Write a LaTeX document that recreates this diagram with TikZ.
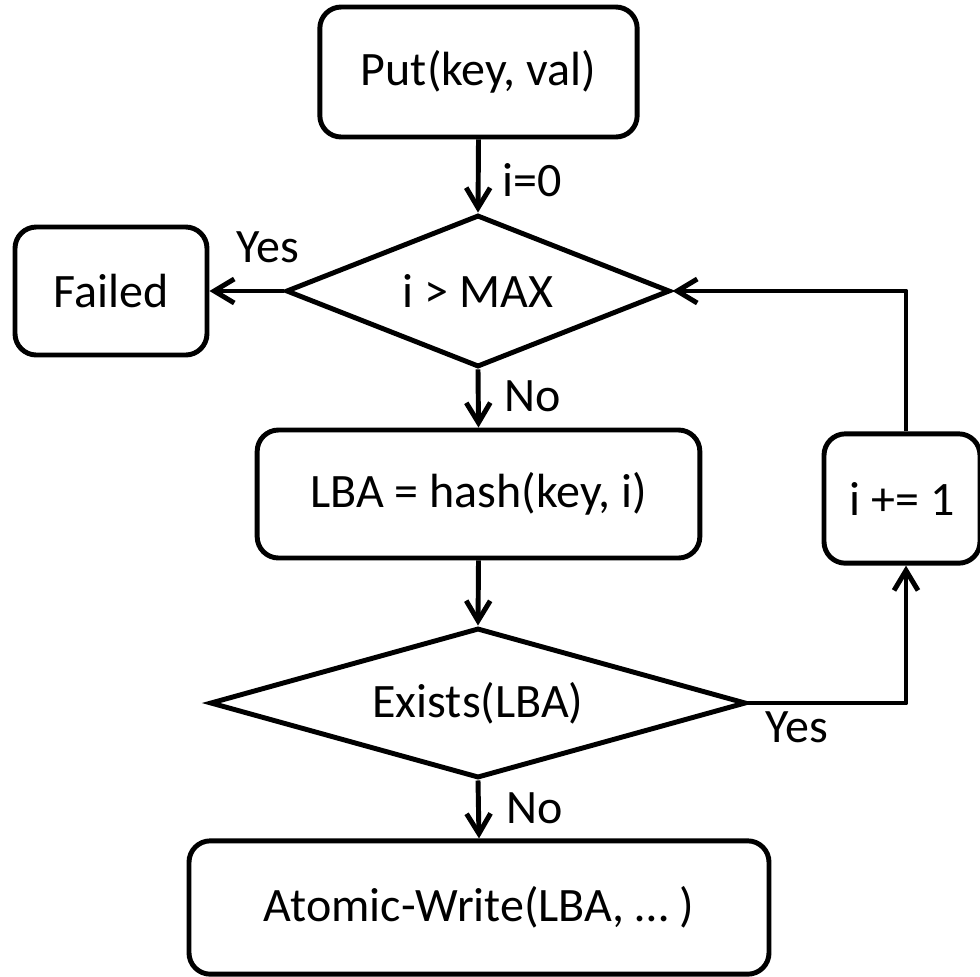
\documentclass[tikz,border=0pt]{standalone}
\usepackage{fontspec}
\setmainfont{Carlito}
\usetikzlibrary{shapes.geometric,arrows.meta}
\begin{document}
\begin{tikzpicture}[x=0.75pt,y=-0.75pt,
  every node/.style={font=\fontsize{36}{42}\selectfont},
  flowline/.style={line width=3.7pt, line join=round},
  arr/.style={flowline, -{Straight Barb[length=15pt,width=18pt]}},
  procbox/.style={draw, line width=3.7pt, rounded corners=16pt, align=center, inner sep=0pt},
  decision/.style={draw, diamond, line width=3.7pt, inner sep=0pt, aspect=2},
  lbl/.style={inner sep=0pt}]
\useasboundingbox (0,0) rectangle (980,976);

% process boxes and decisions
\node[procbox, minimum width=238pt, minimum height=97.5pt] (put) at (478.5,72) {Put(key, val)};
\node[decision, minimum width=288pt, minimum height=114pt] (test) at (478,291) {i > MAX};
\node[procbox, minimum width=144pt, minimum height=96pt] (fail) at (111,291) {Failed};
\node[procbox, minimum width=332pt, minimum height=96pt] (hash) at (478.5,494) {LBA = hash(key, i)};
\node[decision, minimum width=402pt, minimum height=112.5pt] (exists) at (478,703) {Exists(LBA)};
\node[procbox, minimum width=117pt, minimum height=97pt] (inc) at (902,498.5) {i += 1};
\node[procbox, minimum width=435pt, minimum height=100pt] (write) at (479,907.5) {Atomic-Write(LBA, … )};

% corners of the retry loop
\coordinate (cr) at (906,703);
\coordinate (tr) at (906,291);

% connectors
\draw[arr] (put.south) -- (test.north);
\draw[arr] (test.west) -- (fail.east);
\draw[arr] (test.south) -- (hash.north);
\draw[arr] (hash.south) -- (exists.north);
\draw[arr] (exists.south) -- (write.north);
\draw[arr] (exists.east) -- (cr) -- (cr |- inc.south);
\draw[arr] (inc.north -| tr) -- (tr) -- (test.east);

% connector labels
\node[lbl] (l0) at (532,180) {i=0};
\node[lbl] (lyes1) at (268,247) {Yes};
\node[lbl] (lno1) at (533,396) {No};
\node[lbl] (lyes2) at (797,727) {Yes};
\node[lbl] (lno2) at (535,808) {No};
\end{tikzpicture}
\end{document}
